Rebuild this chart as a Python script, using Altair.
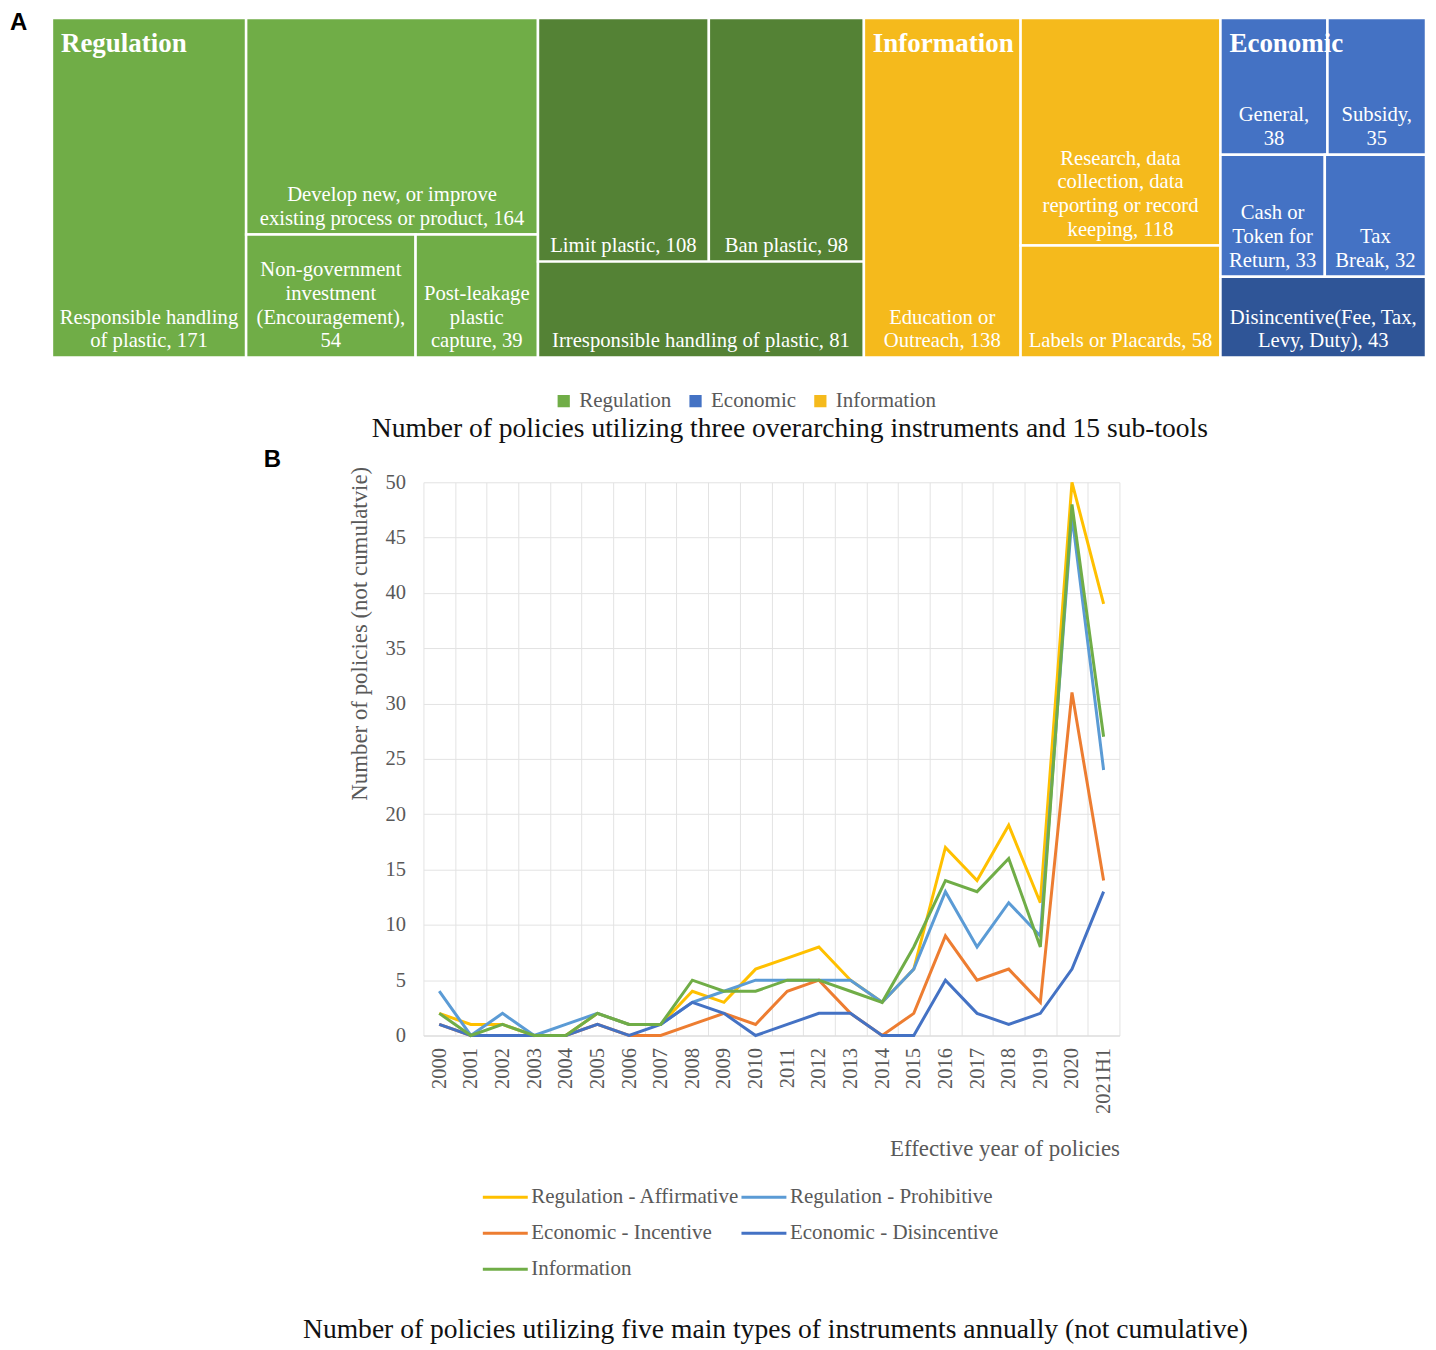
import altair as alt
import pandas as pd

SERIF = "Liberation Serif"
SANS = "Liberation Sans"
GRAY = "#595959"

# ---------------- Panel A : treemap data ----------------
sub_tools = [
    "Responsible handling of plastic",
    "Develop new, or improve existing process or product",
    "Non-government investment (Encouragement)",
    "Post-leakage plastic capture",
    "Limit plastic",
    "Ban plastic",
    "Irresponsible handling of plastic",
    "Education or Outreach",
    "Research, data collection, data reporting or record keeping",
    "Labels or Placards",
    "General",
    "Subsidy",
    "Cash or Token for Return",
    "Tax Break",
    "Disincentive(Fee, Tax, Levy, Duty)",
]
counts = [171, 164, 54, 39, 108, 98, 81, 138, 118, 58, 38, 35, 33, 32, 43]
instrument = ["Regulation"] * 7 + ["Information"] * 3 + ["Economic"] * 5
shade = (["Regulation"] * 4 + ["Regulation dark"] * 3 + ["Information"] * 3
         + ["Economic"] * 4 + ["Economic dark"])
# label line breaks ({n} = count)
name_lines = [
    ["Responsible handling", "of plastic, {n}"],
    ["Develop new, or improve", "existing process or product, {n}"],
    ["Non-government", "investment", "(Encouragement),", "{n}"],
    ["Post-leakage", "plastic", "capture, {n}"],
    ["Limit plastic, {n}"],
    ["Ban plastic, {n}"],
    ["Irresponsible handling of plastic, {n}"],
    ["Education or", "Outreach, {n}"],
    ["Research, data", "collection, data", "reporting or record", "keeping, {n}"],
    ["Labels or Placards, {n}"],
    ["General,", "{n}"],
    ["Subsidy,", "{n}"],
    ["Cash or", "Token for", "Return, {n}"],
    ["Tax", "Break, {n}"],
    ["Disincentive(Fee, Tax,", "Levy, Duty), {n}"],
]
# group -> columns -> rows -> cells (indices into the lists above)
tree_groups = ["Regulation", "Information", "Economic"]
tree_nesting = [
    [[[0]], [[1], [2, 3]], [[4, 5], [6]]],
    [[[7]], [[8], [9]]],
    [[[10, 11], [12, 13], [14]]],
]
legend_groups = ["Regulation", "Economic", "Information"]
shade_domain = ["Regulation", "Economic", "Information", "Regulation dark", "Economic dark"]
shade_colors = ["#70AD47", "#4472C4", "#F5BA1C", "#548235", "#2F5597"]

# ---------------- Panel B : line chart data ----------------
years = ["2000", "2001", "2002", "2003", "2004", "2005", "2006", "2007", "2008",
         "2009", "2010", "2011", "2012", "2013", "2014", "2015", "2016", "2017",
         "2018", "2019", "2020", "2021H1"]
series_names = ["Regulation - Affirmative", "Regulation - Prohibitive",
                "Economic - Incentive", "Economic - Disincentive", "Information"]
series_colors = ["#FFC000", "#5B9BD5", "#ED7D31", "#4472C4", "#70AD47"]
reg_affirmative = [2, 1, 1, 0, 0, 2, 1, 1, 4, 3, 6, 7, 8, 5, 3, 6, 17, 14, 19, 12, 50, 39]
reg_prohibitive = [4, 0, 2, 0, 1, 2, 1, 1, 3, 4, 5, 5, 5, 5, 3, 6, 13, 8, 12, 9, 47, 24]
eco_incentive = [1, 0, 0, 0, 0, 1, 0, 0, 1, 2, 1, 4, 5, 2, 0, 2, 9, 5, 6, 3, 31, 14]
eco_disincentive = [1, 0, 0, 0, 0, 1, 0, 1, 3, 2, 0, 1, 2, 2, 0, 0, 5, 2, 1, 2, 6, 13]
information = [2, 0, 1, 0, 0, 2, 1, 1, 5, 4, 4, 5, 5, 4, 3, 8, 14, 13, 16, 8, 48, 27]
series_values = [reg_affirmative, reg_prohibitive, eco_incentive, eco_disincentive, information]

# ---------------- sizes / styles ----------------
TREE_W, TREE_H = 1376, 340
LEAF_FS, LEAF_LH = 20.7, 23.7

# ---------------- treemap layout (slice & dice from the counts) ----------------
total = sum(counts)
cells, headers = [], []
gx = 0.0
for gname, cols in zip(tree_groups, tree_nesting):
    headers.append({"group": gname, "gx0": gx, "top": 0.0})
    cx = gx
    for col in cols:
        csum = sum(counts[i] for row in col for i in row)
        ry = 0.0
        for row in col:
            rsum = sum(counts[i] for i in row)
            rh = rsum / csum
            x = cx
            for i in row:
                w = csum * counts[i] / rsum
                lines = [s.replace("{n}", str(counts[i])) for s in name_lines[i]]
                # anchor of the first label line so that the block ends at the cell bottom
                ty = ry + rh - (len(lines) - 1) * LEAF_LH / TREE_H
                cells.append({"name": sub_tools[i], "count": counts[i],
                              "group": instrument[i], "shade": shade[i],
                              "x0": x, "x1": x + w, "y0": ry, "y1": ry + rh,
                              "cx": x + w / 2, "ty": ty, "lines": lines})
                x += w
            ry += rh
        cx += csum
    gx = cx

tree_df = pd.DataFrame(cells)
head_df = pd.DataFrame(headers)

xs = alt.Scale(domain=[0, total], nice=False, zero=False)
ys = alt.Scale(domain=[0, 1], nice=False, zero=False, reverse=True)

rects = alt.Chart(tree_df).mark_rect(stroke="white", strokeWidth=2.5).encode(
    x=alt.X("x0:Q", scale=xs, axis=None),
    x2="x1:Q",
    y=alt.Y("y0:Q", scale=ys, axis=None),
    y2="y1:Q",
    color=alt.Color(
        "shade:N",
        scale=alt.Scale(domain=shade_domain, range=shade_colors),
        legend=alt.Legend(
            values=legend_groups, title=None, orient="none", direction="horizontal",
            columns=3, legendX=502, legendY=373, symbolType="square", symbolSize=150,
            symbolStrokeWidth=0, labelFont=SERIF, labelFontSize=21,
            labelColor=GRAY, labelOffset=5, columnPadding=13,
        ),
    ),
    tooltip=["name:N", "count:Q", "group:N"],
)

leaf_text = alt.Chart(tree_df).mark_text(
    font=SERIF, fontSize=LEAF_FS, color="white", align="center", baseline="bottom",
    lineHeight=LEAF_LH, dy=-6,
).encode(
    x=alt.X("cx:Q", scale=xs),
    y=alt.Y("ty:Q", scale=ys),
    text="lines",
)

head_text = alt.Chart(head_df).mark_text(
    font=SERIF, fontSize=27, fontWeight="bold", color="white",
    align="left", baseline="top", dx=9, dy=13,
).encode(
    x=alt.X("gx0:Q", scale=xs),
    y=alt.Y("top:Q", scale=ys),
    text="group:N",
)

letter_a = alt.Chart(pd.DataFrame({"t": ["A"]})).mark_text(
    font=SANS, fontSize=24, fontWeight="bold", color="black",
    align="left", baseline="top",
).encode(x=alt.value(-42), y=alt.value(-7), text="t:N")

treemap = alt.layer(rects, leaf_text, head_text, letter_a).properties(
    width=TREE_W, height=TREE_H,
    title=alt.TitleParams(
        "Number of policies utilizing three overarching instruments and 15 sub-tools",
        orient="bottom", anchor="middle", dx=51, offset=4,
        font=SERIF, fontSize=27.6, fontWeight="normal", color="#111111",
    ),
)

# ---------------- line chart ----------------
rows = []
for sname, vals in zip(series_names, series_values):
    for yr, v in zip(years, vals):
        rows.append({"year": yr, "series": sname, "count": v})
line_df = pd.DataFrame(rows)

lines = alt.Chart(line_df).mark_line(strokeWidth=3).encode(
    x=alt.X(
        "year:N", sort=years, bandPosition=0.5,
        scale=alt.Scale(type="band", paddingInner=0, paddingOuter=0),
        axis=alt.Axis(
            title="Effective year of policies", tickBand="extent", grid=True,
            gridColor="#E3E3E3", ticks=False, domainColor="#D9D9D9",
            labelAngle=270, labelAlign="right", labelBaseline="middle",
            labelPadding=12, labelFont=SERIF, labelFontSize=20.5, labelColor=GRAY,
            titleFont=SERIF, titleFontSize=22.9, titleFontWeight="normal",
            titleColor=GRAY, titleAnchor="end", titleAlign="right",
            titleX=697, titleY=113, titleBaseline="middle",
        ),
    ),
    y=alt.Y(
        "count:Q", scale=alt.Scale(domain=[0, 50], nice=False),
        axis=alt.Axis(
            values=[0, 5, 10, 15, 20, 25, 30, 35, 40, 45, 50], grid=True,
            gridColor="#E3E3E3", ticks=False, domain=False, labelPadding=18,
            labelFont=SERIF, labelFontSize=20.5, labelColor=GRAY,
            title="Number of policies (not cumulatvie)", titleFont=SERIF,
            titleFontSize=22.9, titleFontWeight="normal", titleColor=GRAY,
            titleAngle=270, titleAlign="right", titleBaseline="middle",
            titleX=-64, titleY=-16,
        ),
    ),
    color=alt.Color(
        "series:N", sort=series_names,
        scale=alt.Scale(domain=series_names, range=series_colors),
        legend=alt.Legend(
            title=None, orient="none", direction="horizontal", columns=2,
            legendX=430, legendY=704,
            symbolType="stroke", symbolSize=2025, symbolStrokeWidth=3,
            labelFont=SERIF, labelFontSize=21, labelColor=GRAY, labelOffset=2,
            columnPadding=0, rowPadding=12, clipHeight=24, labelLimit=400,
        ),
    ),
    order=alt.Order("year:N"),
).properties(
    width=697, height=554,
    title=alt.TitleParams(
        "Number of policies utilizing five main types of instruments annually (not cumulative)",
        orient="bottom", anchor="middle", dx=4, offset=156,
        font=SERIF, fontSize=27.6, fontWeight="normal", color="#111111",
    ),
)

spacer = alt.Chart(pd.DataFrame({"t": ["B"]})).mark_text(
    font=SANS, fontSize=24, fontWeight="bold", color="black",
    align="left", baseline="top",
).encode(x=alt.value(212), y=alt.value(-34), text="t:N").properties(width=352, height=554)

row_b = alt.hconcat(spacer, lines, spacing=20, bounds="flush")

chart = alt.vconcat(treemap, row_b, spacing=125, bounds="flush").properties(
    padding={"left": 2, "top": 2, "right": 0, "bottom": 0}
).resolve_scale(color="independent").configure_view(stroke=None).configure_legend(padding=0)

chart.save("out.html", embed_options={"renderer": "svg", "actions": False})
